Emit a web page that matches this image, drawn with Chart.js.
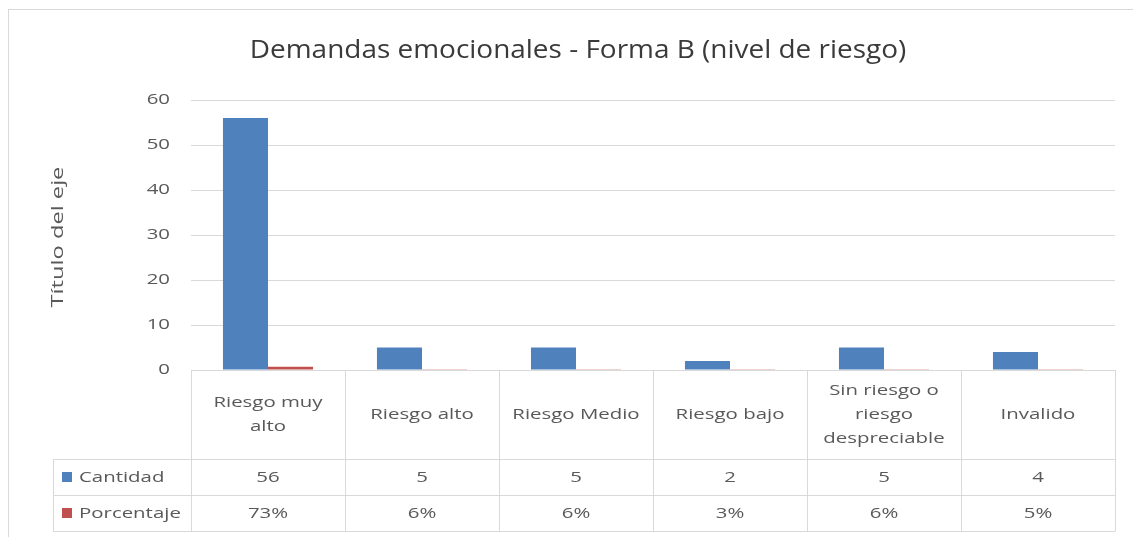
<!DOCTYPE html>
<html><head><meta charset="utf-8">
<script src="https://cdn.jsdelivr.net/npm/chart.js@4.4.1/dist/chart.umd.min.js"></script>
<style>html,body{margin:0;padding:0;background:#fff;overflow:hidden}#wrap{width:1133px;height:537px;position:relative}</style>
</head><body><div id="wrap"><canvas id="c" width="1133" height="537"></canvas></div>
<script>
const categories = ['Riesgo muy alto','Riesgo alto','Riesgo Medio','Riesgo bajo','Sin riesgo o riesgo despreciable','Invalido'];
const categoryLines = [['Riesgo muy','alto'],['Riesgo alto'],['Riesgo Medio'],['Riesgo bajo'],['Sin riesgo o','riesgo','despreciable'],['Invalido']];
const seriesNames = ['Cantidad','Porcentaje'];
const cantidad = [56,5,5,2,5,4];
const porcentaje = [0.73,0.06,0.06,0.03,0.06,0.05];
const porcentajeLabels = ['73%','6%','6%','3%','6%','5%'];
const yMin = 0, yMax = 60, yStep = 10;
const chartTitle = 'Demandas emocionales - Forma B (nivel de riesgo)';
const axisTitle = 'Título del eje';

const BLUE = '#4f81bd', RED = '#c0504d', GRID = '#d9d9d9', TXT = '#595959';
const FONT = "'Open Sans', sans-serif";
const SX = 1.36;

function wideText(ctx, text, x, y, align, sx, rot) {
  ctx.save();
  ctx.translate(x, y);
  if (rot) ctx.rotate(rot);
  ctx.scale(sx, 1);
  ctx.textAlign = align;
  ctx.textBaseline = 'middle';
  ctx.fillText(text, 0, 0);
  ctx.restore();
}

const framePlugin = {
  id: 'frame',
  beforeDraw(chart) {
    const ctx = chart.ctx;
    ctx.save();
    ctx.fillStyle = '#fff';
    ctx.fillRect(0, 0, chart.width, chart.height);
    ctx.strokeStyle = GRID;
    ctx.lineWidth = 1;
    ctx.strokeRect(8.5, 9.5, 1300, 700);
    ctx.restore();
  }
};

const tablePlugin = {
  id: 'dataTable',
  afterDatasetsDraw(chart) {
    const ctx = chart.ctx;
    const a = chart.chartArea;
    const xs = chart.scales.x;
    const ys = chart.scales.y;
    const n = categories.length;
    const cw = (a.right - a.left) / n;
    const top = a.bottom;
    const r1 = 459, r2 = 495, r3 = 531, legLeft = 53;
    ctx.save();
    ctx.strokeStyle = GRID;
    ctx.lineWidth = 1;
    ctx.beginPath();
    ctx.moveTo(a.left, top + 0.5); ctx.lineTo(a.right, top + 0.5);
    [r1, r2, r3].forEach(y => { ctx.moveTo(legLeft, y + 0.5); ctx.lineTo(a.right, y + 0.5); });
    for (let i = 0; i <= n; i++) {
      const x = Math.round(a.left + i * cw) + 0.5;
      ctx.moveTo(x, top); ctx.lineTo(x, r3 + 0.5);
    }
    ctx.moveTo(legLeft + 0.5, r1); ctx.lineTo(legLeft + 0.5, r3 + 0.5);
    ctx.stroke();

    ctx.fillStyle = TXT;
    ctx.font = '15px ' + FONT;
    const lh = 24;
    const hc = (top + r1) / 2;
    categoryLines.forEach((lines, i) => {
      const cx = xs.getPixelForValue(i);
      const y0 = hc - (lines.length - 1) * lh / 2;
      lines.forEach((t, k) => wideText(ctx, t, cx, y0 + k * lh, 'center', SX));
      wideText(ctx, String(cantidad[i]), cx, (r1 + r2) / 2 + 1, 'center', SX);
      wideText(ctx, porcentajeLabels[i], cx, (r2 + r3) / 2 + 1, 'center', SX);
    });
    [[BLUE, seriesNames[0], (r1 + r2) / 2], [RED, seriesNames[1], (r2 + r3) / 2]].forEach(([c, t, y]) => {
      ctx.fillStyle = c;
      ctx.fillRect(62, Math.round(y) - 5, 10, 10);
      ctx.fillStyle = TXT;
      wideText(ctx, t, 79, y + 1, 'left', SX);
    });

    // y tick labels from the library's scale
    ctx.font = '15px ' + FONT;
    ys.ticks.forEach(tk => {
      wideText(ctx, String(tk.value), a.left - 21, ys.getPixelForValue(tk.value), 'right', SX);
    });
    // y axis title
    ctx.font = '16px ' + FONT;
    wideText(ctx, axisTitle, 58, (a.top + a.bottom) / 2 + 2, 'center', 1.48, -Math.PI / 2);

    // chart title
    ctx.fillStyle = '#3a3a3a';
    ctx.font = '26px ' + FONT;
    wideText(ctx, chartTitle, 578, 51, 'center', 1.075);
    ctx.restore();
  }
};

new Chart(document.getElementById('c'), {
  type: 'bar',
  data: {
    labels: categories,
    datasets: [
      { label: seriesNames[0], data: cantidad, backgroundColor: BLUE, categoryPercentage: 0.585, barPercentage: 1.0 },
      { label: seriesNames[1], data: porcentaje, backgroundColor: RED, categoryPercentage: 0.585, barPercentage: 1.0 }
    ]
  },
  options: {
    responsive: false,
    animation: false,
    devicePixelRatio: 1,
    layout: { padding: { left: 39, right: 18, top: 100, bottom: 167 } },
    plugins: {
      legend: { display: false },
      tooltip: { enabled: false },
      title: { display: false }
    },
    scales: {
      x: { display: false },
      y: {
        min: yMin, max: yMax,
        ticks: { stepSize: yStep, display: false },
        grid: { color: GRID, drawTicks: false },
        border: { display: false },
        title: { display: false, text: axisTitle },
        afterFit(s) { s.width = 152; }
      }
    }
  },
  plugins: [framePlugin, tablePlugin]
});
</script></body></html>
